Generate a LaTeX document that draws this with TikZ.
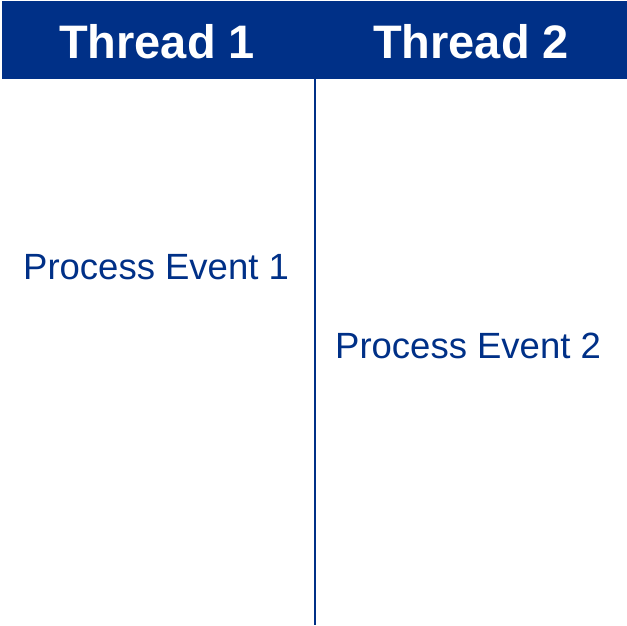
\documentclass[tikz,border=0pt]{standalone}
\usepackage{fontspec}
\setmainfont{Liberation Sans}
\definecolor{tblue}{RGB}{0,48,135}
\begin{document}
\begin{tikzpicture}[x=1pt,y=-1pt,
  head/.style={text=white,font=\fontsize{47}{50}\selectfont\bfseries,anchor=base,inner sep=0pt},
  evt/.style={text=tblue,font=\fontsize{36.5}{40}\selectfont,anchor=base west,inner sep=0pt}]
\useasboundingbox (0,0) rectangle (627,625);
\fill[tblue] (2,1) rectangle (627,79);
\draw[tblue,line width=2pt] (314.5,79) -- (314.5,625);
\node[head] (t1) at (157,58) {Thread 1};
\node[head] (t2) at (471,58) {Thread 2};
\node[evt] (e1) at (23,279) {Process Event 1};
\node[evt] (e2) at (335,358) {Process Event 2};
\end{tikzpicture}
\end{document}
